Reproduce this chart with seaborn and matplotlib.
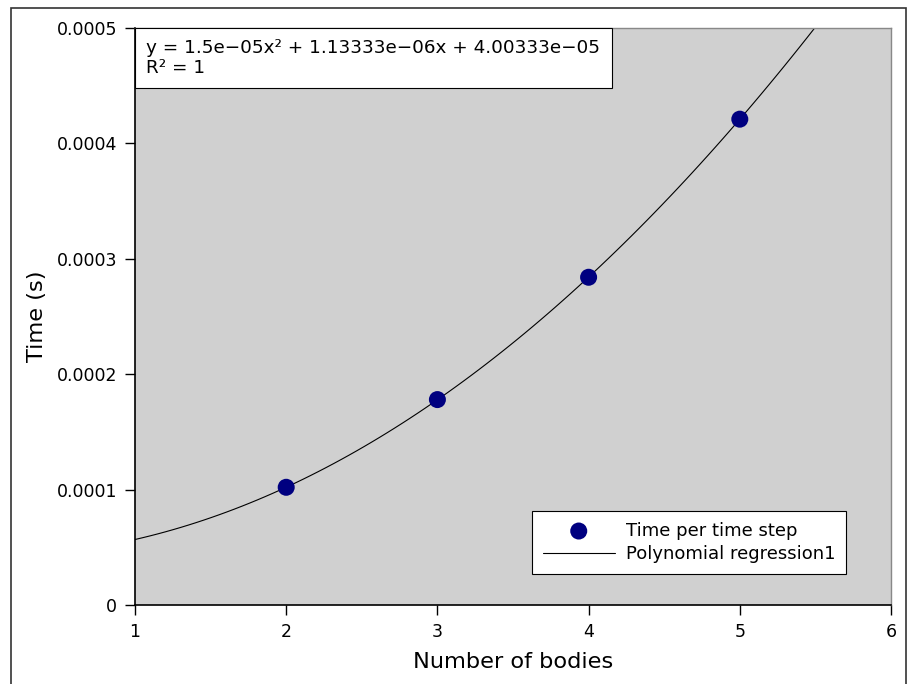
import numpy as np
import pandas as pd
import seaborn as sns
import matplotlib.pyplot as plt
from matplotlib.patches import Rectangle
from matplotlib.offsetbox import AnchoredText

bodies = [2, 3, 4, 5]
time_per_step = [0.000102, 0.000178, 0.000284, 0.000421]

df = pd.DataFrame({"bodies": bodies, "time": time_per_step})

sns.set_style("white")
plt.rcParams["font.family"] = ["DejaVu Sans"]
plt.rcParams["text.color"] = "black"
plt.rcParams["axes.labelcolor"] = "black"

fig = plt.figure(figsize=(9.08, 6.84), dpi=100)
ax = fig.add_axes([135 / 908, 1 - 605 / 684, (891 - 135) / 908, (605 - 28) / 684])
ax.set_facecolor("#d0d0d0")

# border around the whole figure
fig.patches.append(Rectangle((11 / 908, -0.1), (906 - 11) / 908, 1.1 - 8 / 684,
                             transform=fig.transFigure, fill=False,
                             edgecolor="#333333", linewidth=1.2))

ax.set_xlim(1, 6)
ax.set_ylim(0, 0.0005)

sns.regplot(data=df, x="bodies", y="time", order=2, ci=None, truncate=False,
            scatter=False, ax=ax, line_kws={"color": "black", "linewidth": 0.8},
            label="Polynomial regression1")
sns.scatterplot(data=df, x="bodies", y="time", ax=ax, color="#000080", s=150,
                edgecolor="none", label="Time per time step", zorder=3)

at = AnchoredText("y = 1.5e\u221205x\u00b2 + 1.13333e\u221206x + 4.00333e\u221205\nR\u00b2 = 1",
                  loc="upper left", frameon=True, pad=0.62, borderpad=0,
                  prop=dict(size=13.2, linespacing=1.12))
at.patch.set_boxstyle("square,pad=0")
at.patch.set_edgecolor("black")
at.patch.set_linewidth(0.8)
at.patch.set_facecolor("white")
ax.add_artist(at)

ax.set_xticks([1, 2, 3, 4, 5, 6])
ax.set_yticks([0, 0.0001, 0.0002, 0.0003, 0.0004, 0.0005])
ax.set_yticklabels(["0", "0.0001", "0.0002", "0.0003", "0.0004", "0.0005"])
ax.tick_params(direction="out", length=7, width=1, pad=6, labelsize=12.5, colors="black",
               left=True, bottom=True)
ax.set_xlabel("Number of bodies", fontsize=16.2, labelpad=8)
ax.set_ylabel("Time (s)", fontsize=16.2, labelpad=7)

for s in ["left", "bottom"]:
    ax.spines[s].set_color("black")
    ax.spines[s].set_linewidth(1.2)
for s in ["top", "right"]:
    ax.spines[s].set_color("#888888")
    ax.spines[s].set_linewidth(1.0)

handles, labels = ax.get_legend_handles_labels()
order = [labels.index("Time per time step"), labels.index("Polynomial regression1")]
leg = ax.legend([handles[i] for i in order], [labels[i] for i in order],
                loc="lower right", bbox_to_anchor=(0.9405, 0.0537), borderaxespad=0,
                fontsize=13, frameon=True, fancybox=False, edgecolor="black",
                facecolor="white", framealpha=1, handlelength=4.0, handletextpad=0.6,
                borderpad=0.6, labelspacing=0.3)
leg.get_frame().set_linewidth(0.8)

fig.savefig("out.png", dpi=100)
